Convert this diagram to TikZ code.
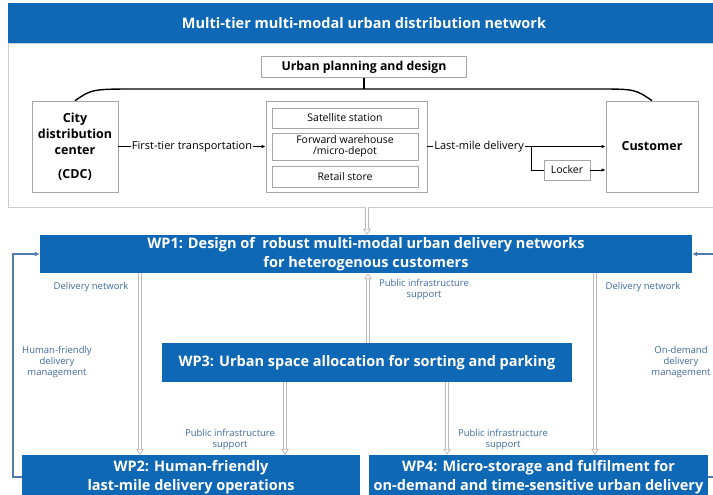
\documentclass[tikz,border=0pt]{standalone}
\usepackage{fontspec}
\setmainfont{Open Sans}
\usetikzlibrary{arrows.meta}

\definecolor{wpblue}{HTML}{0F68B6}
\definecolor{noteblue}{HTML}{3D6A9E}
\definecolor{fbblue}{HTML}{4F7BAE}

\begin{document}
\begin{tikzpicture}[x=1pt, y=-1pt,
  banner/.style={fill=wpblue, text=white, font=\bfseries\fontsize{14.5}{16}\selectfont, inner sep=0pt},
  outerbox/.style={draw=gray!40, line width=0.8pt, inner sep=0pt},
  plainbox/.style={draw=gray!70, line width=0.7pt, fill=white, align=center, inner sep=1pt},
  bigbox/.style={plainbox, font=\bfseries\fontsize{12.5}{16}\selectfont},
  smallbox/.style={plainbox, minimum width=146pt, font=\fontsize{10.5}{11.5}\selectfont},
  wpbox/.style={fill=wpblue, text=white, align=center, inner sep=0pt, font=\bfseries\fontsize{14.5}{18.5}\selectfont},
  note/.style={text=noteblue, align=center, font=\fontsize{9.5}{11}\selectfont},
  flowlbl/.style={fill=white, inner sep=1pt, font=\fontsize{11}{12}\selectfont},
  line/.style={draw=black, line width=0.8pt},
  flow/.style={line, -{Latex[length=4pt,width=3.5pt]}},
  bracket/.style={draw=black, line width=1.4pt},
  link/.style={draw=gray!55, double=white, double distance=1.6pt, line width=0.8pt, -{Triangle[open,length=6pt,width=8pt]}},
  fb/.style={draw=fbblue, line width=1.6pt, -{Latex[length=5pt,width=5pt]}}]
\useasboundingbox (0,0) rectangle (713,495);

% distribution network
\node[outerbox, minimum width=712pt, minimum height=164pt] (net) at (364,125) {};
\node[banner, minimum width=712pt, minimum height=40pt] (title) at (364,23) {Multi-tier multi-modal urban distribution network};
\node[plainbox, font=\bfseries\fontsize{12.3}{13}\selectfont, minimum width=205pt, minimum height=21pt] (urban) at (364,67) {Urban planning and design};
\node[bigbox, minimum width=86pt, minimum height=91pt] (cdc) at (75,146.5) {City\\distribution\\center\\[8pt](CDC)};
\node[plainbox, minimum width=161pt, minimum height=91pt] (hub) at (346.5,146.5) {};
\node[smallbox, minimum height=20pt] (sat) at (345,118) {Satellite station};
\node[smallbox, minimum height=27pt] (fwd) at (345,146.5) {Forward warehouse\\/micro-depot};
\node[smallbox, minimum height=21pt] (retail) at (345,176.5) {Retail store};
\node[bigbox, minimum width=92pt, minimum height=91pt] (cust) at (652,146.5) {Customer};
\node[plainbox, font=\fontsize{10.5}{11.5}\selectfont, minimum width=46pt, minimum height=20pt] (locker) at (567,170) {Locker};
\coordinate (split) at (531,146.5);
\coordinate (brk) at (364,89);

\draw[bracket] (cdc.north) .. controls (92,89) .. (140,89) -- (595,89) .. controls (635,89) .. (cust.north);
\draw[bracket] (urban.south) -- (brk);
\draw[flow] (cdc) -- node[flowlbl] {First-tier transportation} (hub);
\draw[line] (hub) -- node[flowlbl] {Last-mile delivery} (split);
\draw[flow] (split) -- (cust);
\draw[line] (split) |- (locker);
\draw[flow] (locker) -- (locker -| cust.west);

% work packages
\node[wpbox, minimum width=652pt, minimum height=38pt] (wp1) at (366,254) {WP1: Design of\ \ robust multi-modal urban delivery networks\\for heterogenous customers};
\node[wpbox, minimum width=410pt, minimum height=39pt] (wp3) at (367,362.5) {WP3: Urban space allocation for sorting and parking};
\node[wpbox, minimum width=338pt, minimum height=44pt] (wp2) at (191,477) {WP2: Human-friendly\\last-mile delivery operations};
\node[wpbox, minimum width=339pt, minimum height=44pt] (wp4) at (538.5,477) {WP4: Micro-storage and fulfilment for\\on-demand and time-sensitive urban delivery};

\draw[link] ([xshift=3pt]net.south) -- ([xshift=3pt]net.south |- wp1.north);
\draw[link] ([xshift=-226pt]wp1.south) -- ([xshift=-226pt]wp1.south |- wp2.north);
\draw[link] ([xshift=1pt]wp3.north) -- ([xshift=1pt]wp3.north |- wp1.south);
\draw[link] ([xshift=229pt]wp1.south) -- ([xshift=229pt]wp1.south |- wp4.north);
\draw[link] ([xshift=-82pt]wp3.south) -- ([xshift=-82pt]wp3.south |- wp2.north);
\draw[link] ([xshift=80pt]wp3.south) -- ([xshift=80pt]wp3.south |- wp4.north);
\draw[fb] (wp2.west) -- ++(-9,0) |- (wp1.west);
\draw[fb] (wp4.east) -- ++(12,0) |- (wp1.east);

\node[note] (dnl) at (91,287) {Delivery network};
\node[note] (pis) at (424,290) {Public infrastructure\\support};
\node[note] (dnr) at (643,287) {Delivery network};
\node[note] (hfm) at (57,362) {Human-friendly\\delivery\\management};
\node[note] (odm) at (681,362) {On-demand\\delivery\\management};
\node[note] (pil) at (230,440) {Public infrastructure\\support};
\node[note] (pir) at (503,440) {Public infrastructure\\support};
\end{tikzpicture}
\end{document}
